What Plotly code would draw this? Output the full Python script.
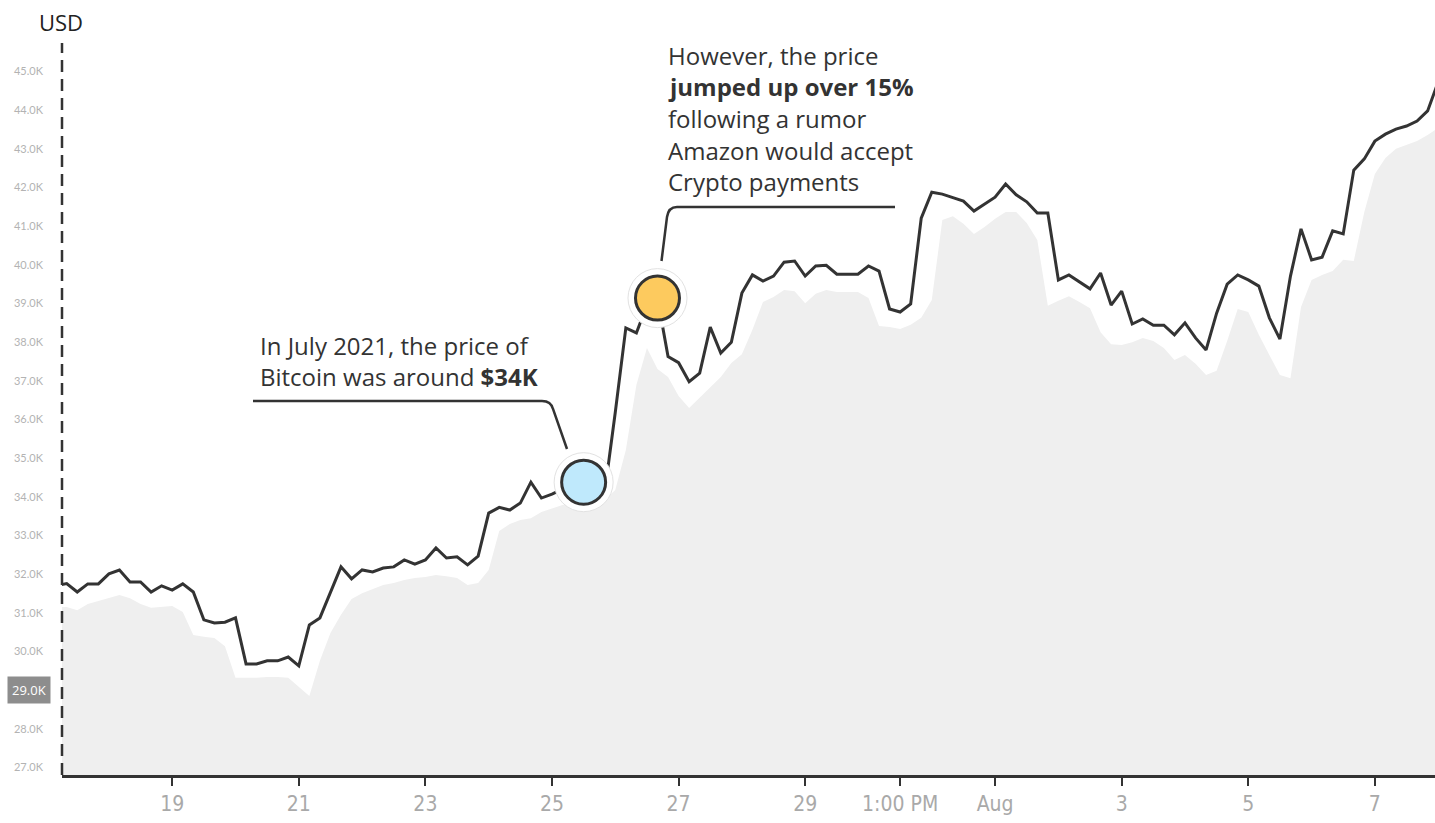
import plotly.graph_objects as go
import pandas as pd

# ---------------- data (USD, 4-hour samples starting 2021-07-17 04:00) ----------------
start_time = "2021-07-17 04:00"
step = "4h"

price = [
    31700, 31760, 31540, 31750, 31750, 32010, 32110, 31800, 31800, 31540,
    31700, 31590, 31750, 31540, 30820, 30740, 30760, 30870, 29680, 29680,
    29760, 29760, 29860, 29630, 30690, 30870, 31530, 32190, 31880, 32110,
    32060, 32160, 32190, 32370, 32260, 32370, 32680, 32420, 32450, 32240,
    32470, 33580, 33730, 33660, 33840, 34380, 33970, 34070, 34200, 34280,
    34380, 34280, 34130, 36190, 38370, 38240, 38960, 39140, 37630, 37470,
    36980, 37200, 38390, 37720, 38000, 39270, 39740, 39580, 39710, 40070,
    40100, 39710, 39970, 39990, 39760, 39760, 39760, 39970, 39840, 38860,
    38780, 38990, 41210, 41880, 41830, 41740, 41650, 41390, 41570, 41750,
    42090, 41810, 41630, 41340, 41340, 39610, 39740, 39560, 39380, 39790,
    38960, 39320, 38470, 38600, 38440, 38440, 38190, 38500, 38110, 37800,
    38750, 39500, 39740, 39610, 39450, 38630, 38080, 39710, 40930, 40130,
    40200, 40880, 40800, 42450, 42740, 43200, 43380, 43510, 43590, 43720,
    43980, 44730,
]

low_band = [
    31150, 31150, 31070, 31230, 31310, 31380, 31460, 31380, 31230, 31130,
    31150, 31180, 31020, 30430, 30380, 30350, 30140, 29320, 29320, 29320,
    29340, 29340, 29320, 29080, 28850, 29760, 30480, 30950, 31360, 31510,
    31620, 31720, 31770, 31850, 31900, 31930, 31980, 31950, 31900, 31720,
    31770, 32110, 33120, 33300, 33400, 33450, 33610, 33690, 33790, 33820,
    33820, 33820, 33920, 34180, 35210, 36890, 37850, 37310, 37100, 36610,
    36300, 36560, 36820, 37100, 37460, 37690, 38320, 39040, 39170, 39350,
    39320, 39010, 39250, 39350, 39300, 39300, 39300, 39140, 38420, 38390,
    38340, 38450, 38630, 39090, 41160, 41260, 41060, 40800, 40980, 41190,
    41370, 41370, 41080, 40640, 38940, 39070, 39190, 39040, 38880, 38260,
    37950, 37930, 38000, 38110, 38030, 37850, 37540, 37670, 37440, 37150,
    37260, 38030, 38860, 38780, 38190, 37670, 37150, 37070, 38910, 39610,
    39740, 39840, 40130, 40100, 41370, 42350, 42760, 43000, 43100, 43200,
    43360, 43540,
]

dates = pd.date_range(start_time, periods=len(price), freq=step)

x_tick_vals = ["2021-07-19", "2021-07-21", "2021-07-23", "2021-07-25", "2021-07-27",
               "2021-07-29", "2021-07-30 12:00", "2021-08-01", "2021-08-03",
               "2021-08-05", "2021-08-07"]
x_tick_text = ["19", "21", "23", "25", "27", "29", "1:00 PM", "Aug", "3", "5", "7"]

y_tick_vals = [27000, 28000, 29000, 30000, 31000, 32000, 33000, 34000, 35000, 36000,
               37000, 38000, 39000, 40000, 41000, 42000, 43000, 44000, 45000]
y_tick_text = ["27.0K", "28.0K", "", "30.0K", "31.0K", "32.0K", "33.0K", "34.0K",
               "35.0K", "36.0K", "37.0K", "38.0K", "39.0K", "40.0K", "41.0K",
               "42.0K", "43.0K", "44.0K", "45.0K"]
highlight_tick = 29000
highlight_label = "29.0K"

blue_idx = 50     # July 25 ~ $34K
orange_idx = 57   # July 26 jump

x_range = ["2021-07-17 06:13", "2021-08-07 22:48"]
y_range = [26808, 45737]

# ---------------- layout helpers ----------------
W, H = 1435, 823
PLOT_L, PLOT_R, PLOT_T, PLOT_B = 62, 1435, 43, 775   # target screen pixels
ML, MT = PLOT_L, PLOT_T
MR = W - PLOT_R
MB = H - PLOT_B
PW, PH = PLOT_R - PLOT_L, PLOT_B - PLOT_T


def px(x):
    return (x - PLOT_L) / PW


def py(y):
    return (PLOT_B - y) / PH


DARK = "#333333"
TEXT_FONT = "'Open Sans', Lato, sans-serif"
TEXT_SIZE = 24

fig = go.Figure()

fig.add_trace(go.Scatter(
    x=dates, y=low_band, mode="lines", line=dict(width=0, color="#efefef"),
    fill="tozeroy", fillcolor="#efefef", hoverinfo="skip", showlegend=False))

fig.add_trace(go.Scatter(
    x=dates, y=price, mode="lines", line=dict(width=3, color=DARK),
    hoverinfo="skip", showlegend=False))

for idx, col in [(blue_idx, "#bfe9fc"), (orange_idx, "#fdca5e")]:
    fig.add_trace(go.Scatter(
        x=[dates[idx]], y=[price[idx]], mode="markers",
        marker=dict(size=59, color="white", line=dict(color="#e2e2e2", width=1)),
        hoverinfo="skip", showlegend=False))
    fig.add_trace(go.Scatter(
        x=[dates[idx]], y=[price[idx]], mode="markers",
        marker=dict(size=44, color=col, line=dict(color=DARK, width=3)),
        hoverinfo="skip", showlegend=False))

shapes = [
    dict(type="line", xref="paper", yref="paper", x0=0, x1=0, y0=0, y1=1,
         line=dict(color=DARK, width=2.5, dash="12px,7px")),
    dict(type="path", xref="paper", yref="paper",
         path=(f"M {px(253)},{py(401)} L {px(542)},{py(401)} "
               f"Q {px(551)},{py(401)} {px(553)},{py(409)} L {px(567)},{py(449)}"),
         line=dict(color=DARK, width=2.5)),
    dict(type="path", xref="paper", yref="paper",
         path=(f"M {px(661.5)},{py(261)} L {px(667)},{py(217)} "
               f"Q {px(668.5)},{py(207)} {px(677)},{py(207)} L {px(895)},{py(207)}"),
         line=dict(color=DARK, width=2.5)),
]

ann1 = ["In July 2021, the price of", "Bitcoin was around <b>$34K</b>"]
ann1_y = [345, 376.5]
ann2 = ["However, the price", "<b>jumped up over 15%</b>", "following a rumor",
        "Amazon would accept", "Crypto payments"]
ann2_y = [55, 86.7, 118.4, 150.1, 181.8]

annotations = []
for t, yy in zip(ann1, ann1_y):
    annotations.append(dict(text=t, xref="paper", yref="paper", x=px(258), y=py(yy),
                            xanchor="left", yanchor="middle", showarrow=False,
                            font=dict(family=TEXT_FONT, size=TEXT_SIZE, color=DARK)))
for t, yy in zip(ann2, ann2_y):
    annotations.append(dict(text=t, xref="paper", yref="paper", x=px(666), y=py(yy),
                            xanchor="left", yanchor="middle", showarrow=False,
                            font=dict(family=TEXT_FONT, size=TEXT_SIZE, color=DARK)))

annotations.append(dict(text="USD", xref="paper", yref="paper", x=px(37), y=py(22),
                        xanchor="left", yanchor="middle", showarrow=False,
                        font=dict(family=TEXT_FONT, size=22, color="#222222")))
annotations.append(dict(text=highlight_label, xref="paper", yref="y", x=0,
                        y=highlight_tick, xanchor="center", yanchor="middle",
                        xshift=-33, showarrow=False, bgcolor="#8d8d8d", borderpad=4,
                        font=dict(family=TEXT_FONT, size=13, color="white")))

fig.update_layout(
    width=W, height=H,
    margin=dict(l=ML, r=MR, t=MT, b=MB, pad=0),
    paper_bgcolor="white", plot_bgcolor="white",
    showlegend=False,
    shapes=shapes,
    annotations=annotations,
    xaxis=dict(
        type="date", range=x_range, showgrid=False, zeroline=False,
        showline=True, linecolor=DARK, linewidth=2.5,
        ticks="outside", ticklen=8, tickwidth=2, tickcolor=DARK,
        tickvals=x_tick_vals, ticktext=x_tick_text,
        tickfont=dict(family="'Liberation Sans Narrow', 'DejaVu Sans Condensed', sans-serif",
                      size=21, color="#a9a9a9"),
    ),
    yaxis=dict(
        range=y_range, showgrid=False, zeroline=False, showline=False,
        ticks="", tickvals=y_tick_vals, ticktext=y_tick_text,
        ticklabelstandoff=18,
        tickfont=dict(family="Lato, sans-serif", size=11, color="#b3b3b3"),
    ),
)

# place the figure flush with the page corner (no default 8px body margin)
fig.write_html(
    "out.html",
    config={"displayModeBar": False},
    post_script="document.body.style.margin='0';document.body.style.overflow='hidden';",
)
